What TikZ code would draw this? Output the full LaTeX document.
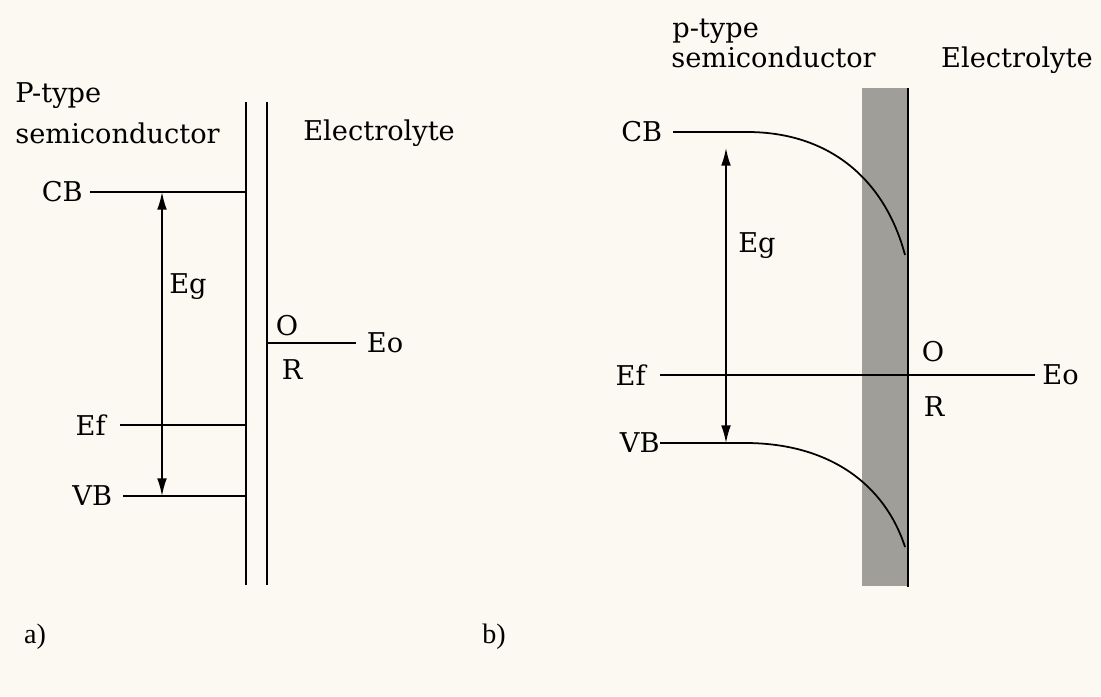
\documentclass[tikz,border=0pt]{standalone}
\usepackage{fontspec}
\setmainfont{DejaVu Serif}
\newfontfamily\capfont{Liberation Serif}
\usetikzlibrary{arrows.meta,positioning,calc}
\definecolor{paper}{RGB}{251,249,242}
\definecolor{layer}{RGB}{160,158,152}
\tikzset{
  lbl/.style={font=\fontsize{15.5}{17}\selectfont, inner sep=0pt},
  band/.style={line width=1pt},
  gap/.style={line width=0.9pt, {Latex[length=10pt,width=5.5pt]}-{Latex[length=10pt,width=5.5pt]}}
}

\begin{document}
\begin{tikzpicture}[x=0.02cm, y=-0.02cm]
\fill[paper] (0,0) rectangle (1101,696);
\useasboundingbox (0,0) rectangle (1101,696);

% a) flat bands
\node[lbl, anchor=base west] (ptA) at (15,103) {P-type};
\node[lbl, anchor=base west] (scA) at (15,143) {semiconductor};
\node[lbl, anchor=base west] (elA) at (303,140) {Electrolyte};
\coordinate (wallA) at (246,102);
\coordinate (wallB) at (267,102);
\draw[band] (wallA) -- (246,585);
\draw[band] (wallB) -- (267,585);
\coordinate (cbA) at (90,192);
\coordinate (efA) at (120,425);
\coordinate (vbA) at (123,496);
\node[lbl, anchor=east, xshift=-4pt] (cbAl) at (cbA) {CB};
\node[lbl, anchor=east, xshift=-8pt] (efAl) at (efA) {Ef};
\node[lbl, anchor=east, xshift=-6pt] (vbAl) at (vbA) {VB};
\draw[band] (cbA) -- (cbA -| wallA);
\draw[band] (efA) -- (efA -| wallA);
\draw[band] (vbA) -- (vbA -| wallA);
\coordinate (egAt) at (162,192);
\coordinate (egAb) at (162,496);
\draw[gap] (egAb) -- (egAt);
\node[lbl] (egA) at (188,287) {Eg};
\coordinate (eoA) at (356,343);
\draw[band] (eoA -| wallB) -- (eoA);
\node[lbl, anchor=west, xshift=6pt] (eoAl) at (eoA) {Eo};
\node[lbl] (oxA) at (287,326) {O};
\node[lbl] (reA) at (292,370) {R};
\node[lbl, font=\capfont\fontsize{16}{18}\selectfont] (capA) at (35,637) {a)};

% b) bent bands
\node[lbl, anchor=base west] (ptB) at (672,38) {p-type};
\node[lbl, anchor=base west] (scB) at (671,68) {semiconductor};
\node[lbl, anchor=base east] (elB) at (1093,68) {Electrolyte};
\fill[layer] (862,88) rectangle (907,586);
\coordinate (wallC) at (908,88);
\draw[line width=1.6pt] (wallC) -- (908,587);
\coordinate (cbB) at (673,132);
\coordinate (vbB) at (660,443);
\coordinate (efB) at (660,375);
\node[lbl, anchor=east, xshift=-6pt] (cbBl) at (cbB) {CB};
\node[lbl, anchor=east, xshift=-8pt] (efBl) at (efB) {Ef};
\node[lbl, anchor=east, xshift=0pt] (vbBl) at (vbB) {VB};
\draw[band] (cbB) -- (747,132) .. controls (830,132) and (885,180) .. (905,255);
\draw[band] (vbB) -- (745,443) .. controls (830,443) and (885,485) .. (905,547);
\coordinate (eoB) at (1035,375);
\draw[band] (efB) -- (eoB);
\node[lbl, anchor=west, xshift=4pt] (eoBl) at (eoB) {Eo};
\coordinate (egBt) at (726,148);
\coordinate (egBb) at (726,443);
\draw[gap] (egBb) -- (egBt);
\node[lbl] (egB) at (757,246) {Eg};
\node[lbl] (oxB) at (933,352) {O};
\node[lbl] (reB) at (934,407) {R};
\node[lbl, font=\capfont\fontsize{16}{18}\selectfont] (capB) at (494,637) {b)};
\end{tikzpicture}
\end{document}
